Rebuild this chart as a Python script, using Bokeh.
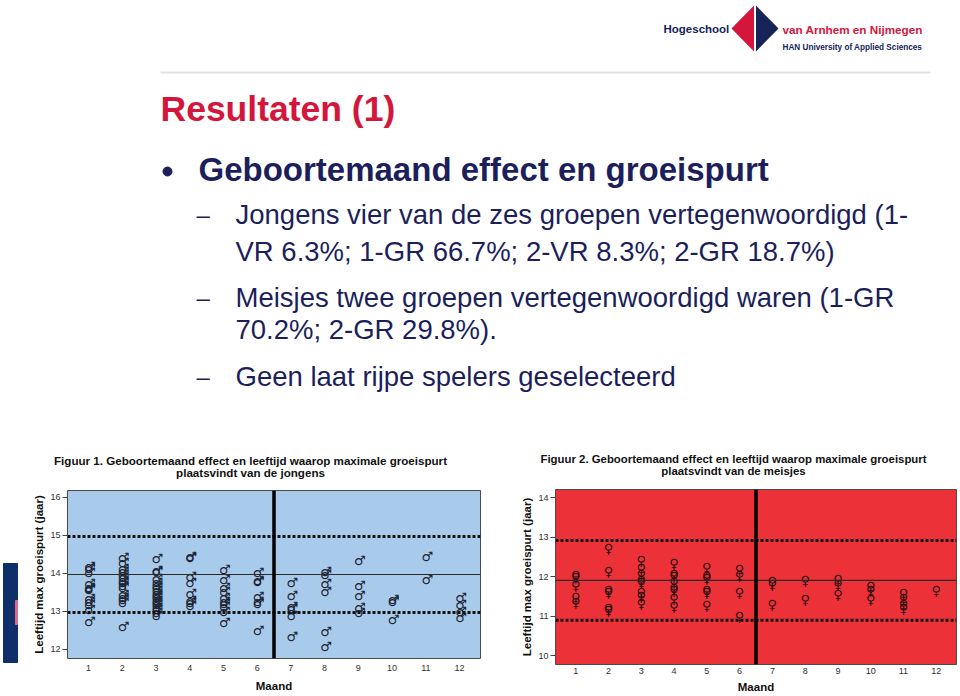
from bokeh.plotting import figure
from bokeh.layouts import column, row
from bokeh.models import Range1d, Span, FixedTicker, ColumnDataSource
from bokeh.core.properties import value
from bokeh.embed import file_html
from bokeh.resources import INLINE

# ---------------- data ----------------
maanden = list(range(1, 13))
x_labels = [str(m) for m in maanden]

# Figuur 1: jongens, leeftijd max groeispurt per geboortemaand
jongens_leeftijd = [
    [14.13, 14.07, 13.96, 13.69, 13.58, 13.55, 13.52, 13.28, 13.21, 13.12, 12.99, 12.68],
    [14.37, 14.22, 14.08, 14.0, 13.93, 13.85, 13.76, 13.7, 13.64, 13.58, 13.4, 13.32, 13.26, 13.18, 12.56],
    [14.35, 14.03, 14.0, 13.8, 13.72, 13.64, 13.57, 13.5, 13.43, 13.36, 13.3, 13.24, 13.18, 13.12, 13.06, 13.0, 12.93, 12.85],
    [14.4, 14.37, 13.87, 13.7, 13.43, 13.23, 13.17, 13.1],
    [14.05, 13.78, 13.58, 13.46, 13.32, 13.2, 13.16, 13.08, 12.95, 12.66],
    [13.96, 13.77, 13.73, 13.33, 13.21, 13.15, 12.45],
    [13.72, 13.36, 13.08, 13.03, 12.84, 12.29],
    [14.0, 13.93, 13.67, 13.47, 12.42, 12.03],
    [14.28, 13.62, 13.37, 13.05, 12.92],
    [13.27, 13.22, 12.73],
    [14.38, 13.78],
    [13.32, 13.12, 12.95, 12.78],
]
jongens_gemiddelde = 13.97
jongens_grenzen = [14.97, 12.97]
jongens_yticks = [12, 13, 14, 15, 16]

# Figuur 2: meisjes
meisjes_leeftijd = [
    [12.12, 12.06, 11.86, 11.55, 11.42],
    [12.8, 12.2, 11.74, 11.68, 11.28, 11.22],
    [12.48, 12.29, 12.14, 11.97, 11.92, 11.67, 11.57, 11.4],
    [12.41, 12.14, 12.08, 11.93, 11.78, 11.74, 11.53, 11.32],
    [12.3, 12.09, 12.03, 11.74, 11.68, 11.35],
    [12.27, 12.12, 11.68, 11.06],
    [11.95, 11.89, 11.37],
    [11.97, 11.49],
    [12.0, 11.88, 11.64],
    [11.82, 11.74, 11.5],
    [11.65, 11.53, 11.38, 11.27],
    [11.72],
]
meisjes_gemiddelde = 11.91
meisjes_grenzen = [12.92, 10.90]
meisjes_yticks = [10, 11, 12, 13, 14]

scheiding_maand = 6.5

NAVY = "#1c1f5c"
RED = "#d4163c"
FONT = "Liberation Sans"


def make_chart(width, height, borders, y_range, bg, ticks, leeftijden, symbool,
               gem, grenzen, sym_color, std, offs):
    bl, br, bt, bb = borders
    p = figure(width=width, height=height, output_backend="svg", toolbar_location=None,
               x_range=Range1d(0.38, 12.62), y_range=Range1d(*y_range),
               min_border_left=bl, min_border_right=br, min_border_top=bt, min_border_bottom=bb)
    p.background_fill_color = bg
    p.border_fill_color = "white"
    p.outline_line_color = "#4a4a4a"
    p.outline_line_width = 1
    p.grid.visible = False

    p.xaxis.ticker = FixedTicker(ticks=maanden)
    p.xaxis.major_label_overrides = {m: l for m, l in zip(maanden, x_labels)}
    p.yaxis.ticker = FixedTicker(ticks=ticks)
    for ax in (p.xaxis, p.yaxis):
        ax.axis_line_color = None
        ax.minor_tick_line_color = None
        ax.major_label_text_font = FONT
        ax.major_label_text_font_size = "9px"
        ax.major_label_text_color = "#333333"
        ax.axis_label_text_font = FONT
        ax.axis_label_text_font_style = "bold"
        ax.axis_label_text_color = "#111111"
    p.xaxis.major_tick_line_color = None
    p.xaxis.major_tick_out = 0
    p.xaxis.major_tick_in = 0
    p.xaxis.major_label_standoff = std[0]
    p.xaxis.axis_label = "Maand"
    p.xaxis.axis_label_text_font_size = "11.5px"
    p.xaxis.axis_label_standoff = std[1]
    p.yaxis.major_tick_line_color = "#444444"
    p.yaxis.major_tick_out = 5
    p.yaxis.major_tick_in = 0
    p.yaxis.major_label_standoff = 2
    p.yaxis.axis_label = "Leeftijd max groeispurt (jaar)"
    p.yaxis.axis_label_text_font_size = "11.5px"
    p.yaxis.axis_label_standoff = std[2]

    p.add_layout(Span(location=gem, dimension="width", line_color="#2a2a2a", line_width=1.2))
    for g in grenzen:
        p.add_layout(Span(location=g, dimension="width", line_color="#111111",
                          line_width=3, line_dash="3 2"))
    p.add_layout(Span(location=scheiding_maand, dimension="height", line_color="#000000",
                      line_width=3.5))

    xs, ys = [], []
    for m, vals in zip(maanden, leeftijden):
        for v in vals:
            xs.append(m)
            ys.append(v)
    src = ColumnDataSource(dict(x=xs, y=ys, t=[symbool] * len(xs)))
    p.text(x="x", y="y", text="t", source=src, text_font=value("DejaVu Sans"),
           text_font_size="13px", text_font_style="bold", text_align="center",
           text_baseline="middle", text_color=sym_color, x_offset=offs[0], y_offset=offs[1])
    return p


# ---------------- slide (top) ----------------
top = figure(width=960, height=484, output_backend="svg", toolbar_location=None,
             x_range=Range1d(0, 960), y_range=Range1d(484, 0),
             min_border=0)
top.axis.visible = False
top.grid.visible = False
top.outline_line_color = None
top.background_fill_color = "white"
top.border_fill_color = "white"

# logo
top.patches(xs=[[731, 753.5, 753.5], [755.5, 778, 755.5]], ys=[[28, 5, 51], [5, 28, 51]],
            fill_color=[RED, "#16245a"], line_color=None)
top.text(x=[663], y=[28], text=["Hogeschool"], text_font=value(FONT), text_font_style="bold",
         text_font_size="11.5px", text_color="#16245a", text_baseline="middle")
top.text(x=[782], y=[29], text=["van Arnhem en Nijmegen"], text_font=value(FONT),
         text_font_style="bold", text_font_size="11.7px", text_color=RED, text_baseline="middle")
top.text(x=[782], y=[47], text=["HAN University of Applied Sciences"], text_font=value(FONT),
         text_font_style="bold", text_font_size="8.2px", text_color="#16245a",
         text_baseline="middle")
top.line(x=[160, 930], y=[72, 72], line_color="#e2e2e2", line_width=2)

top.text(x=[160], y=[108], text=["Resultaten (1)"], text_font=value(FONT), text_font_style="bold",
         text_font_size="35.5px", text_color=RED, text_baseline="middle")
top.scatter(x=[167], y=[171], size=9, color=NAVY)
top.text(x=[198], y=[169], text=["Geboortemaand effect en groeispurt"], text_font=value(FONT),
         text_font_style="bold", text_font_size="33px", text_color=NAVY, text_baseline="middle")

sub_lines = [
    ("Jongens vier van de zes groepen vertegenwoordigd (1-", 214),
    ("VR 6.3%; 1-GR 66.7%; 2-VR 8.3%; 2-GR 18.7%)", 251),
    ("Meisjes twee groepen vertegenwoordigd waren (1-GR", 297),
    ("70.2%; 2-GR 29.8%).", 329),
    ("Geen laat rijpe spelers geselecteerd", 376),
]
top.text(x=[235] * len(sub_lines), y=[s[1] for s in sub_lines], text=[s[0] for s in sub_lines],
         text_font=value(FONT), text_font_size="27.5px", text_color=NAVY, text_baseline="middle")
top.text(x=[196, 196, 196], y=[214, 297, 376], text=["\u2013"] * 3, text_font=value(FONT),
         text_font_size="24px", text_color=NAVY, text_baseline="middle")

# chart titles
top.text(x=[250, 250], y=[460, 472],
         text=["Figuur 1. Geboortemaand effect en leeftijd waarop maximale groeispurt",
               "plaatsvindt van de jongens"],
         text_font=value(FONT), text_font_style="bold", text_font_size="11.6px",
         text_color="#111111", text_align="center", text_baseline="middle")
top.text(x=[733, 733], y=[458, 470],
         text=["Figuur 2. Geboortemaand effect en leeftijd waarop maximale groeispurt",
               "plaatsvindt van de meisjes"],
         text_font=value(FONT), text_font_style="bold", text_font_size="11.4px",
         text_color="#111111", text_align="center", text_baseline="middle")

# ---------------- left decoration strip ----------------
strip = figure(width=20, height=212, output_backend="svg", toolbar_location=None,
               x_range=Range1d(0, 20), y_range=Range1d(696, 484), min_border=0)
strip.axis.visible = False
strip.grid.visible = False
strip.outline_line_color = None
strip.background_fill_color = "white"
strip.border_fill_color = "white"
strip.quad(left=[3], right=[17], top=[563], bottom=[662], color="#0f2f6b")
strip.quad(left=[15], right=[17], top=[600], bottom=[624], color="#e06a8a")

# ---------------- charts ----------------
left = make_chart(463, 212, (47, 3, 6, 38), (11.76, 16.18), "#a9cbeb", jongens_yticks,
                  jongens_leeftijd, "\u2642", jongens_gemiddelde, jongens_grenzen,
                  "#1d2535", (6, 6, 2), (1.5, -2))
right = make_chart(477, 212, (72, 4, 5, 32), (9.78, 14.21), "#ec3138", meisjes_yticks,
                   meisjes_leeftijd, "\u2640", meisjes_gemiddelde, meisjes_grenzen,
                   "#2a0f12", (3, 4, 2), (0, 3))

layout = column(top, row(column(strip), column(left), column(right)))
open("out.html", "w").write(file_html(layout, INLINE))
